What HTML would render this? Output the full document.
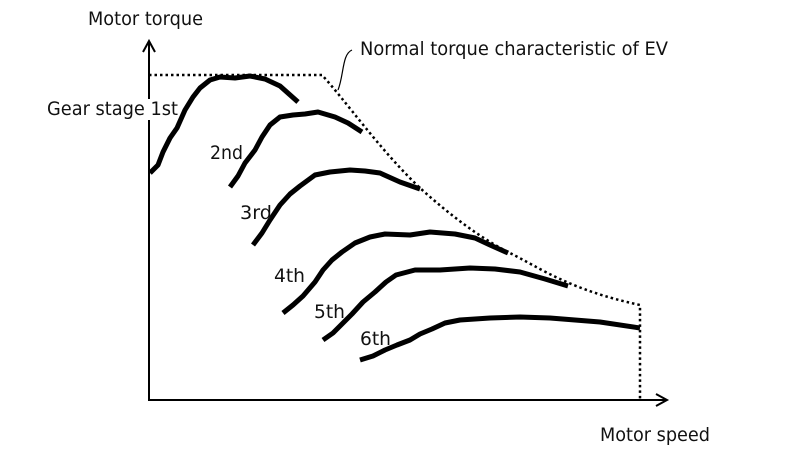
<!DOCTYPE html>
<html><head><style>body{margin:0;background:#fff}svg{display:block}text{font-family:"DejaVu Sans","Liberation Sans",sans-serif;font-size:19px;fill:#111}</style></head>
<body>
<svg width="800" height="450" viewBox="0 0 800 450">
<g stroke="#000" stroke-width="2" fill="none">
<line x1="149" y1="401" x2="149" y2="42"/>
<polyline points="143,52 149,41 155,52"/>
<line x1="148" y1="400" x2="666" y2="400"/>
<polyline points="656,394 667,400 656,406"/>
</g>
<path d="M149,75 L322,75 C345,100 380,150 420,188 C450,215 480,238 510,253 C540,268 570,290 640,305 L640,400" stroke="#000" stroke-width="2.5" stroke-dasharray="2.5,3" fill="none"/>
<path d="M352,50 C342,54 344,75 338,90" stroke="#000" stroke-width="1.2" fill="none"/>
<rect x="145" y="99" width="33" height="21" fill="#fff"/>
<g stroke="#000" stroke-width="5" fill="none" stroke-linejoin="round" stroke-linecap="butt">
<polyline points="150,173 158,165 163,152 170,138 177,128 185,110 193,97 200,88 210,80 220,77 235,78 250,76 265,79 280,86 298,102"/>
<polyline points="230,187 238,176 245,163 255,150 262,137 270,125 280,117 293,115 305,114 318,112 335,117 348,123 362,132"/>
<polyline points="253,245 262,233 270,220 280,205 290,194 300,186 315,175 330,172 350,170 365,171 380,173 400,182 420,189"/>
<polyline points="283,313 293,305 303,296 315,282 323,270 332,260 342,252 355,243 370,237 385,234 410,235 430,232 455,234 475,238 490,245 508,253"/>
<polyline points="323,340 333,333 343,323 352,314 363,302 375,292 386,282 396,275 415,270 440,270 470,268 495,269 520,272 545,279 568,286"/>
<polyline points="360,360 373,356 385,350 397,345 410,340 420,334 432,329 445,323 460,320 490,318 520,317 550,318 600,322 640,328"/>
</g>
<text x="88" y="25" textLength="115" lengthAdjust="spacingAndGlyphs">Motor torque</text>
<text x="360" y="55" textLength="308" lengthAdjust="spacingAndGlyphs">Normal torque characteristic of EV</text>
<text x="47" y="115" textLength="131" lengthAdjust="spacingAndGlyphs">Gear stage 1st</text>
<text x="210" y="159" textLength="33" lengthAdjust="spacingAndGlyphs">2nd</text>
<text x="240" y="219" textLength="32" lengthAdjust="spacingAndGlyphs">3rd</text>
<text x="274" y="282" textLength="31" lengthAdjust="spacingAndGlyphs">4th</text>
<text x="314" y="318" textLength="31" lengthAdjust="spacingAndGlyphs">5th</text>
<text x="360" y="345" textLength="31" lengthAdjust="spacingAndGlyphs">6th</text>
<text x="600" y="441" textLength="110" lengthAdjust="spacingAndGlyphs">Motor speed</text>
</svg>
</body></html>
